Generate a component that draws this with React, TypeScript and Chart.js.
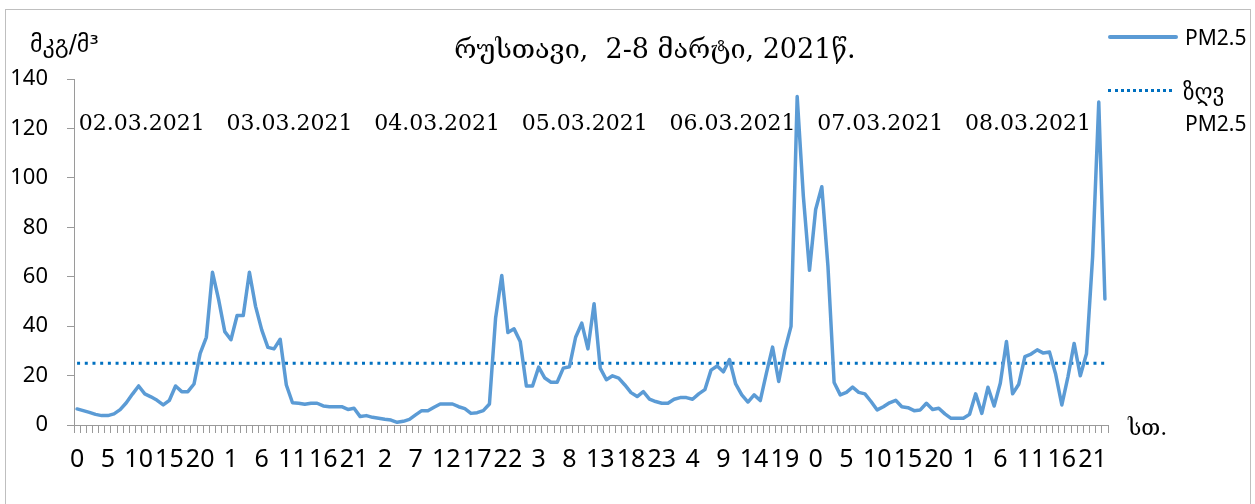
import React, { useEffect, useRef } from "react";
import { Chart, registerables } from "chart.js";

Chart.register(...registerables);

// Hourly PM2.5 (µg/m³), Rustavi, 2–8 March 2021
const day0302 = [6.5, 5.8, 5.1, 4.3, 3.8, 3.8, 4.5, 6.2, 9, 12.5, 15.8, 12.6, 11.4, 10, 8.1, 10, 15.8, 13.5, 13.5, 16.6, 29, 35.5, 61.8, 50.7];
const day0303 = [37.8, 34.5, 44.3, 44.3, 61.8, 48, 38.5, 31.4, 30.8, 34.7, 16.2, 9.0, 8.8, 8.4, 8.8, 8.8, 7.7, 7.4, 7.4, 7.4, 6.3, 6.8, 3.4, 3.8];
const day0304 = [3.1, 2.7, 2.3, 2.0, 1.1, 1.5, 2.3, 4.1, 5.8, 5.8, 7.2, 8.5, 8.5, 8.5, 7.4, 6.6, 4.7, 5.0, 5.8, 8.5, 43.3, 60.5, 37.4, 38.9];
const day0305 = [33.8, 15.8, 15.8, 23.4, 19.0, 17.3, 17.3, 23.0, 23.6, 35.5, 41.2, 30.8, 49.1, 23.0, 18.3, 19.9, 19.0, 16.2, 13.1, 11.5, 13.5, 10.5, 9.5, 8.8];
const day0306 = [8.8, 10.4, 11.1, 11.1, 10.4, 12.6, 14.3, 22.2, 23.9, 21.5, 26.5, 16.6, 12.2, 9.3, 12.2, 9.9, 21.0, 31.5, 17.6, 30.4, 39.9, 132.9, 92.6, 62.6];
const day0307 = [87.2, 96.4, 64.2, 17.2, 12.2, 13.2, 15.3, 13.2, 12.6, 9.5, 6.1, 7.4, 9.0, 10.0, 7.4, 7.0, 5.8, 6.1, 8.8, 6.3, 6.8, 4.5, 2.7, 2.7];
const day0308 = [2.7, 4.3, 12.6, 4.7, 15.3, 7.7, 16.9, 33.8, 12.6, 16.5, 27.7, 28.7, 30.4, 29.1, 29.5, 20.5, 8.1, 19.6, 33.0, 19.9, 28.8, 68, 130.7, 51];

const days = [day0302, day0303, day0304, day0305, day0306, day0307, day0308];
const dateLabels = ["02.03.2021", "03.03.2021", "04.03.2021", "05.03.2021", "06.03.2021", "07.03.2021", "08.03.2021"];
const hoursOfDay = Array.from({ length: 24 }, (_, h) => String(h));
const limitValue = 25;

const pm25 = days.flat();
const categories = days.flatMap(() => hoursOfDay);
const limitSeries = categories.map(() => limitValue);

const title = "რუსთავი,  2-8 მარტი, 2021წ.";
const unitLabel = "მკგ/მ³";
const xUnitLabel = "სთ.";
const legendMain = "PM2.5";
const legendLimitTop = "ზღვ";
const legendLimitBottom = "PM2.5";

const datePlugin = {
  id: "dateLabels",
  afterDatasetsDraw(chart: any) {
    const { ctx, scales } = chart;
    const x = scales.x;
    const y = scales.y;
    ctx.save();
    ctx.font = "22px 'DejaVu Serif'";
    ctx.fillStyle = "#000";
    ctx.textAlign = "center";
    ctx.textBaseline = "middle";
    dateLabels.forEach((t, d) => {
      ctx.fillText(t, x.getPixelForValue(24 * d + 10.5), y.getPixelForValue(121.5));
    });
    ctx.restore();
  },
};

export default function App() {
  const ref = useRef<HTMLCanvasElement | null>(null);

  useEffect(() => {
    if (!ref.current) return;
    const chart = new Chart(ref.current, {
      type: "line",
      data: {
        labels: categories,
        datasets: [
          {
            label: legendMain,
            data: pm25,
            borderColor: "#5B9BD5",
            borderWidth: 3.5,
            pointRadius: 0,
            tension: 0,
            borderJoinStyle: "round",
            borderCapStyle: "round",
          },
          {
            label: "ზღვ PM2.5",
            data: limitSeries,
            borderColor: "#0070C0",
            borderWidth: 3,
            borderDash: [3, 4.7],
            pointRadius: 0,
            tension: 0,
          },
        ],
      },
      options: {
        animation: false,
        responsive: false,
        maintainAspectRatio: false,
        layout: { padding: { left: 0, top: 79, right: 147, bottom: 0 } },
        plugins: {
          legend: { display: false },
          title: { display: false },
          tooltip: { enabled: false },
        },
        scales: {
          x: {
            type: "category",
            offset: true,
            grid: {
              display: true,
              drawOnChartArea: false,
              drawTicks: true,
              tickLength: 8,
              offset: true,
              color: "#9a9a9a",
            },
            border: { display: true, color: "#9a9a9a", width: 1 },
            ticks: {
              autoSkip: false,
              maxRotation: 0,
              minRotation: 0,
              padding: 12,
              color: "#000",
              font: { family: "'Noto Sans'", size: 25 },
              callback: (_v: any, i: number) => (i % 5 === 0 ? categories[i] : ""),
            },
            afterFit: (s: any) => {
              s.height = 79;
            },
          },
          y: {
            min: 0,
            max: 140,
            grid: {
              display: true,
              drawOnChartArea: false,
              drawTicks: true,
              tickLength: 7,
              color: "#9a9a9a",
            },
            border: { display: true, color: "#9a9a9a", width: 1 },
            ticks: {
              stepSize: 20,
              padding: 19,
              color: "#000",
              font: { family: "'Noto Sans'", size: 22 },
            },
            afterFit: (s: any) => {
              s.width = 74;
            },
          },
        },
      },
      plugins: [datePlugin],
    });
    return () => chart.destroy();
  }, []);

  const abs = (extra: React.CSSProperties): React.CSSProperties => ({ position: "absolute", whiteSpace: "pre", ...extra });

  return (
    <div style={{ position: "absolute", left: 0, top: 0, width: 1255, height: 504, overflow: "hidden", background: "#fff" }}>
      <div style={abs({ left: 5, top: 9, width: 1246, height: 520, border: "1px solid #BFBFBF", boxSizing: "border-box" })} />
      <canvas ref={ref} width={1255} height={504} style={{ position: "absolute", left: 0, top: 0, width: 1255, height: 504 }} />
      <div style={abs({ left: 655, top: 48, transform: "translate(-50%, -50%)", font: "27px 'DejaVu Serif'", color: "#000" })}>{title}</div>
      <div style={abs({ left: 30, top: 44, transform: "translateY(-50%)", font: "24px 'DejaVu Sans'", color: "#000" })}>{unitLabel}</div>
      <div style={abs({ left: 1128, top: 427, transform: "translateY(-50%)", font: "22px 'DejaVu Serif'", color: "#000" })}>{xUnitLabel}</div>
      <div style={abs({ left: 1108, top: 35, width: 70, height: 0, borderTop: "4px solid #5B9BD5", borderRadius: 2 })} />
      <div style={abs({ left: 1185, top: 37, transform: "translateY(-50%)", font: "21px 'Noto Sans'", color: "#000" })}>{legendMain}</div>
      <div style={abs({ left: 1108, top: 89, width: 64, height: 0, borderTop: "3px dotted #0070C0" })} />
      <div style={abs({ left: 1183, top: 92, transform: "translateY(-50%)", font: "23px 'DejaVu Sans'", color: "#000" })}>{legendLimitTop}</div>
      <div style={abs({ left: 1185, top: 123, transform: "translateY(-50%)", font: "21px 'Noto Sans'", color: "#000" })}>{legendLimitBottom}</div>
    </div>
  );
}
